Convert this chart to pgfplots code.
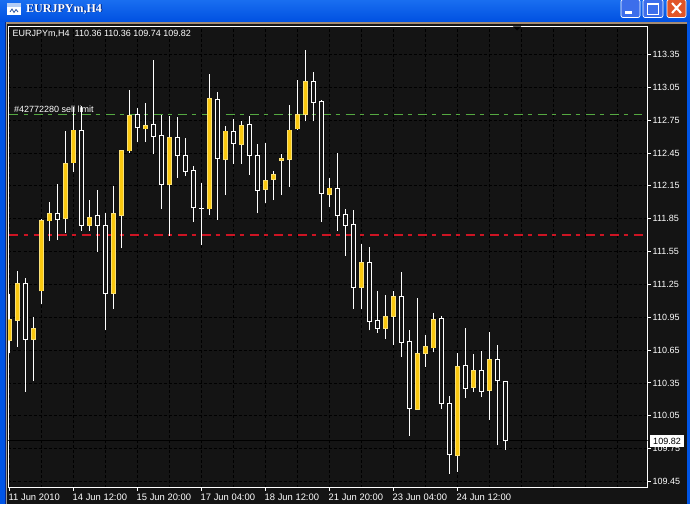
\documentclass[border=0pt]{standalone}
\usepackage{pgfplots}
\usepackage{pgfplotstable}
\usepackage{fontspec}
\setmainfont{Liberation Sans}
\newfontfamily\titlefont{Liberation Serif}
\pgfplotsset{compat=1.18}
\definecolor{bg}{RGB}{20,20,20}
\definecolor{gold}{RGB}{250,200,15}
\definecolor{goldedge}{RGB}{250,225,120}
\definecolor{ordergreen}{RGB}{85,170,65}
\definecolor{orderred}{RGB}{205,20,35}
\definecolor{bartop}{RGB}{25,110,240}
\definecolor{barbot}{RGB}{0,80,225}
\definecolor{tan}{RGB}{165,140,115}
\definecolor{winblue}{RGB}{0,85,230}
\definecolor{darkblue}{RGB}{10,40,140}
\definecolor{edgegray}{RGB}{150,150,140}
\definecolor{shadowblue}{RGB}{5,40,130}
\definecolor{iconpale}{RGB}{180,205,245}
\definecolor{iconline}{RGB}{40,80,160}
\definecolor{btnblue}{RGB}{60,110,235}
\definecolor{btnred}{RGB}{225,85,40}
\pgfplotstableread{
k lo blo bhi hi
0 110.62 110.74 110.93 111.16
1 110.68 110.92 111.26 111.37
3 110.37 110.75 110.85 110.95
4 111.07 111.19 111.83 111.85
5 111.65 111.83 111.90 112.00
7 111.72 111.85 112.35 112.65
8 112.28 112.36 112.66 112.87
10 111.74 111.79 111.86 112.02
13 111.03 111.17 111.90 112.15
14 111.58 111.88 112.47 112.48
15 112.45 112.47 112.79 113.03
17 112.55 112.67 112.70 112.91
20 111.69 112.16 112.59 112.79
25 111.88 111.94 112.95 113.17
27 112.07 112.39 112.65 112.70
29 112.35 112.53 112.70 112.74
32 111.99 112.12 112.20 112.54
33 112.02 112.21 112.25 112.29
34 112.07 112.38 112.40 112.44
35 112.14 112.39 112.66 112.89
36 112.66 112.67 112.80 113.12
37 112.74 112.80 113.10 113.39
40 111.96 112.07 112.13 112.22
44 111.03 111.22 111.45 111.62
47 110.75 110.85 110.96 111.15
48 110.70 110.96 111.14 111.19
51 110.11 110.11 110.62 111.13
52 110.50 110.62 110.68 110.79
53 110.63 110.67 110.93 110.99
56 109.54 109.69 110.50 110.62
58 110.27 110.31 110.46 110.61
60 110.01 110.28 110.56 110.82
}\yellowcandles
\pgfplotstableread{
k lo blo bhi hi
2 110.27 110.75 111.26 111.31
6 111.66 111.84 111.90 112.17
9 111.74 111.79 112.66 112.88
11 111.55 111.79 111.88 112.11
12 110.83 111.17 111.79 111.90
16 112.55 112.68 112.80 112.86
18 112.44 112.60 112.71 113.30
19 111.94 112.16 112.61 112.80
21 112.22 112.43 112.59 112.78
22 112.24 112.28 112.43 112.59
23 111.82 111.95 112.29 112.33
26 111.84 112.40 112.94 113.01
28 112.35 112.54 112.65 112.76
30 112.25 112.43 112.71 112.79
31 111.90 112.11 112.43 112.53
38 112.74 112.91 113.10 113.19
39 111.82 112.08 112.92 112.93
41 111.74 111.88 112.13 112.45
42 111.51 111.79 111.89 111.94
43 111.03 111.22 111.80 111.93
45 110.83 110.91 111.45 111.59
46 110.81 110.85 110.92 111.19
49 110.59 110.72 111.14 111.36
50 109.87 110.12 110.73 110.83
54 110.11 110.16 110.94 110.96
55 109.52 109.70 110.16 110.23
57 110.21 110.30 110.51 110.85
59 110.22 110.27 110.46 110.64
61 109.78 110.37 110.56 110.70
62 109.74 109.82 110.36 110.36
}\hollowcandles
\pgfplotstableread{
k lo p hi
24 111.61 111.94 112.18
}\dojicandles
\begin{document}
\begin{tikzpicture}[x=1pt,y=1pt]
\useasboundingbox (0,0) rectangle (690,504);
\fill[bg] (0,0) rectangle (690,504);
% window chrome
\shade[top color=bartop,bottom color=barbot] (0,482) rectangle (690,504);
\fill[tan] (5,480) rectangle (690,482);
\fill[winblue] (0,0) rectangle (4.5,482);
\fill[darkblue] (4.5,0) rectangle (6,482);
\fill[edgegray] (6,0) rectangle (7,482);
\fill[winblue] (687,0) rectangle (690,482);
\begin{axis}[
  at={(8.5pt,16.5pt)},anchor=south west,
  scale only axis,width=639pt,height=461pt,
  xmin=-0.125,xmax=79.75,ymin=109.3952,ymax=113.6057,
  axis background/.style={fill=bg},
  axis line style={white,line width=1pt},
  xtick pos=bottom,ytick pos=right,
  xtick={0,8,16,24,32,40,48,56},
  xticklabels={11 Jun 2010,14 Jun 12:00,15 Jun 20:00,17 Jun 04:00,18 Jun 12:00,21 Jun 20:00,23 Jun 04:00,24 Jun 12:00},
  minor xtick={4,12,20,28,36,44,52,60,64,68,72,76},
  ytick={109.45,109.75,110.05,110.35,110.65,110.95,111.25,111.55,111.85,112.15,112.45,112.75,113.05,113.35},
  yticklabel style={/pgf/number format/fixed,/pgf/number format/fixed zerofill,/pgf/number format/precision=2,/pgf/number format/assume math mode=true,text=white,font=\fontsize{9}{10}\selectfont,anchor=west,xshift=2pt,inner sep=0pt},
  xticklabel style={text=white,font=\fontsize{9.4}{10}\selectfont,anchor=north west,xshift=-1pt,yshift=-3pt,inner sep=0pt},
  tick align=outside,major tick length=3pt,
  tick style={white,line width=1pt},
  minor tick length=0pt,
  grid=both,
  major grid style={black,line width=0.8pt,dash pattern=on 3pt off 2pt},
  minor grid style={black,line width=0.8pt,dash pattern=on 3pt off 2pt},
]
% current price line and pending orders
\addplot[black,line width=1pt,forget plot] coordinates {(-0.125,109.82) (79.75,109.82)};
\addplot[ordergreen,line width=1.4pt,dash pattern=on 9pt off 5pt on 4pt off 6pt,forget plot] coordinates {(0,112.80) (79,112.80)};
\addplot[orderred,line width=1.4pt,dash pattern=on 9pt off 5pt on 4pt off 6pt,forget plot] coordinates {(0,111.70) (79.75,111.70)};
% wicks
\addplot[draw=none,mark=none,forget plot,error bars/.cd,y dir=plus,y explicit,error mark=none,error bar style={draw=white,line width=1pt}]
  table[x=k,y=lo,y error plus expr=\thisrow{hi}-\thisrow{lo}] {\yellowcandles};
\addplot[draw=none,mark=none,forget plot,error bars/.cd,y dir=plus,y explicit,error mark=none,error bar style={draw=white,line width=1pt}]
  table[x=k,y=lo,y error plus expr=\thisrow{hi}-\thisrow{lo}] {\hollowcandles};
\addplot[draw=none,mark=none,forget plot,error bars/.cd,y dir=plus,y explicit,error mark=none,error bar style={draw=white,line width=1pt}]
  table[x=k,y=lo,y error plus expr=\thisrow{hi}-\thisrow{lo}] {\dojicandles};
% bodies: outline, then fill
\addplot[draw=none,mark=none,forget plot,error bars/.cd,y dir=plus,y explicit,error mark=none,error bar style={draw=white,line width=5pt}]
  table[x=k,y expr=\thisrow{blo}-0.0046,y error plus expr=\thisrow{bhi}-\thisrow{blo}+0.0092] {\hollowcandles};
\addplot[draw=none,mark=none,forget plot,error bars/.cd,y dir=plus,y explicit,error mark=none,error bar style={draw=bg,line width=3pt}]
  table[x=k,y expr=\thisrow{blo}+0.0046,y error plus expr=\thisrow{bhi}-\thisrow{blo}-0.0092] {\hollowcandles};
\addplot[draw=none,mark=none,forget plot,error bars/.cd,y dir=plus,y explicit,error mark=none,error bar style={draw=goldedge,line width=5pt}]
  table[x=k,y expr=\thisrow{blo}-0.0046,y error plus expr=\thisrow{bhi}-\thisrow{blo}+0.0092] {\yellowcandles};
\addplot[draw=none,mark=none,forget plot,error bars/.cd,y dir=plus,y explicit,error mark=none,error bar style={draw=gold,line width=3.8pt}]
  table[x=k,y expr=\thisrow{blo}+0.0030,y error plus expr=\thisrow{bhi}-\thisrow{blo}-0.0060] {\yellowcandles};
\addplot[only marks,mark=-,mark size=2.5pt,mark options={white,line width=1pt},forget plot] table[x=k,y=p] {\dojicandles};
\end{axis}
% texts over the chart
\node[anchor=west,inner sep=0pt,text=white,font=\fontsize{9}{10}\selectfont] at (12.5,470) {EURJPYm,H4\hspace{5pt}110.36 110.36 109.74 109.82};
\node[anchor=west,inner sep=0pt,text=white,font=\fontsize{9}{10}\selectfont] at (14,394.5) {\#42772280 sell limit};
\fill[black] (513,477.5) -- (521,477.5) -- (517,473.5) -- cycle;
\fill[white] (650,57) rectangle (684,69);
\node[anchor=center,inner sep=0pt,text=black,font=\fontsize{9}{10}\selectfont] at (667,62.8) {109.82};
% title bar
\node[anchor=west,inner sep=0pt,text=shadowblue,font=\titlefont\bfseries\fontsize{12}{13}\selectfont] at (27,494.3) {EURJPYm,H4};
\node[anchor=west,inner sep=0pt,text=white,font=\titlefont\bfseries\fontsize{12}{13}\selectfont] at (26,495) {EURJPYm,H4};
\fill[iconpale] (7,489) rectangle (21,501);
\fill[white] (7,489) rectangle (21,497);
\draw[iconline,line width=0.8pt] (10,492) -- (12,495) -- (14,491.5) -- (16,494.5) -- (18,492);
% window buttons
\foreach \a/\b in {621/640,643/663}{
  \fill[btnblue,draw=white,line width=0.7pt,rounded corners=2pt] (\a,486.5) rectangle (\b,504.5);
}
\fill[white] (625,490) rectangle (632,492.5);
\draw[white,line width=0.8pt] (647,490) rectangle (658,501);
\fill[white] (647,499) rectangle (658,501);
\fill[btnred,draw=white,line width=0.7pt,rounded corners=2pt] (667,486.5) rectangle (686,504.5);
\draw[white,line width=2pt] (672,491) -- (681,501) (672,501) -- (681,491);
\end{tikzpicture}
\end{document}
